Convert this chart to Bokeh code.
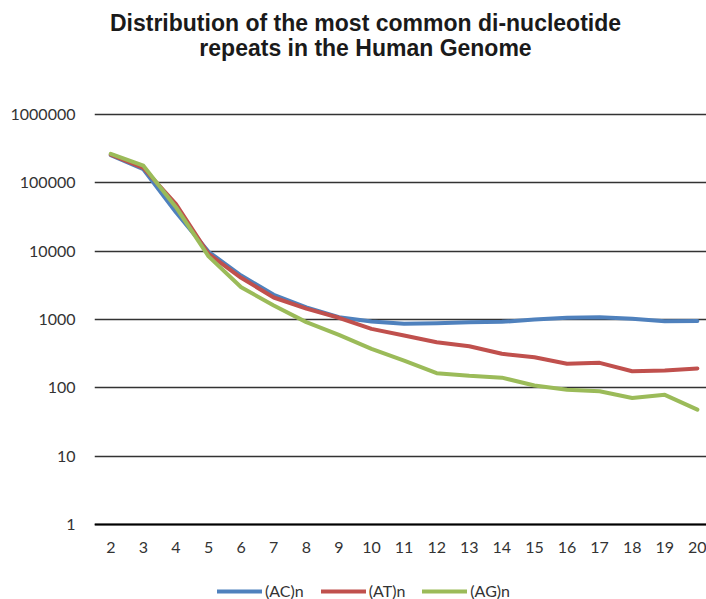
from bokeh.plotting import figure
from bokeh.models import (Range1d, FixedTicker, NumeralTickFormatter, Legend, LegendItem, Label)
from bokeh.embed import file_html
from bokeh.resources import INLINE

categories = list(range(2, 21))
ac = [255000, 158000, 37000, 9800, 4400, 2300, 1500, 1080, 935, 865, 885, 913, 925, 1000, 1060, 1080, 1025, 945, 950]
at = [258000, 165000, 49000, 9100, 4080, 2100, 1440, 1060, 730, 583, 466, 407, 315, 281, 225, 232, 175, 179, 192]
ag = [266000, 178000, 44000, 8400, 2970, 1600, 915, 595, 372, 251, 164, 150, 141, 108, 94, 89, 71, 79, 48]
series_names = ["(AC)n", "(AT)n", "(AG)n"]
colors = ["#4F81BD", "#C0504D", "#9BBB59"]
y_ticks = [1, 10, 100, 1000, 10000, 100000, 1000000]
title_lines = ["Distribution of the most common di-nucleotide", "repeats in the Human Genome"]

FONT = "Lato"
TXT = "#333333"
W, H = 706, 599

# frame spans the full height; y range padded so that 1..1e6 sit where the reference has them
p = figure(width=W, height=H, output_backend="svg", toolbar_location=None,
           y_axis_type="log", x_range=Range1d(1.5, 20.28), y_range=Range1d(0.0799, 4.66e7),
           min_border_left=94, min_border_right=0, min_border_top=0, min_border_bottom=0)
p.outline_line_color = None
p.background_fill_color = "white"
p.border_fill_color = "white"

for txt, yy in zip(title_lines, [577, 552]):
    p.add_layout(Label(x=271, y=yy, x_units="screen", y_units="screen", text=txt,
                       text_align="center", text_baseline="middle",
                       text_font="Liberation Sans", text_font_size="23px",
                       text_font_style="bold", text_color="#1a1a1a"))

renderers = []
for vals, c in zip([ac, at, ag], colors):
    r = p.line(categories, vals, line_color=c, line_width=4, line_join="round", line_cap="round")
    renderers.append(r)

# x axis pinned at y = 1
p.xaxis.fixed_location = 1
p.xaxis.ticker = FixedTicker(ticks=categories)
p.xaxis.axis_line_color = "black"
p.xaxis.axis_line_width = 2
p.xaxis.major_tick_line_color = None
p.xaxis.minor_tick_line_color = None
p.xaxis.major_tick_out = 0
p.xaxis.major_tick_in = 0
p.xaxis.major_label_standoff = 17
p.xaxis.major_label_text_font = FONT
p.xaxis.major_label_text_font_size = "16px"
p.xaxis.major_label_text_color = TXT

p.yaxis.ticker = FixedTicker(ticks=y_ticks)
p.yaxis.formatter = NumeralTickFormatter(format="0")
p.yaxis.axis_line_color = None
p.yaxis.major_tick_line_color = None
p.yaxis.minor_tick_line_color = None
p.yaxis.major_tick_out = 0
p.yaxis.major_tick_in = 0
p.yaxis.major_label_standoff = 19
p.yaxis.major_label_text_font = FONT
p.yaxis.major_label_text_font_size = "16px"
p.yaxis.major_label_text_color = TXT

p.xgrid.grid_line_color = None
p.ygrid.ticker = FixedTicker(ticks=y_ticks)
p.ygrid.grid_line_color = "#333333"
p.ygrid.grid_line_width = 1.4

legend = Legend(items=[LegendItem(label=n, renderers=[r]) for n, r in zip(series_names, renderers)],
                orientation="horizontal", location=(123, -1),
                glyph_width=45, glyph_height=18, label_standoff=3, spacing=17,
                padding=0, margin=0, border_line_color=None, background_fill_alpha=0,
                label_text_font=FONT, label_text_font_size="16px", label_text_color=TXT)
p.add_layout(legend, "center")

open("out.html", "w").write(file_html(p, INLINE))
